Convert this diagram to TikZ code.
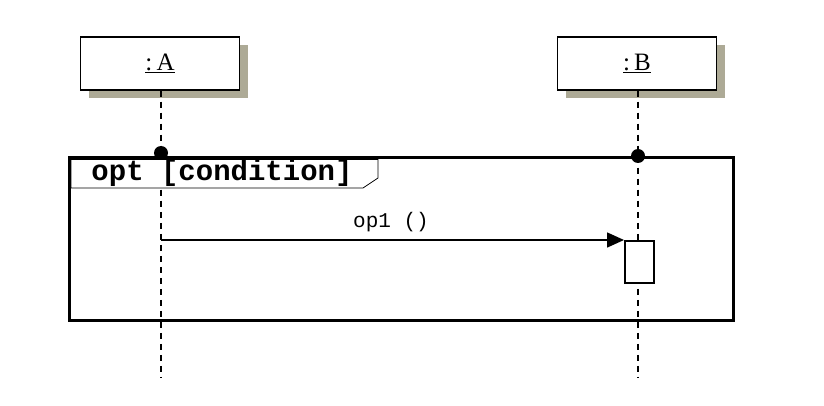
\documentclass[tikz,border=0pt]{standalone}
\usepackage{fontspec}
\setmainfont{Liberation Serif}
\setmonofont{Liberation Mono}
\usetikzlibrary{arrows.meta,shadows}
\definecolor{shadowgray}{HTML}{ADAA96}

\begin{document}
\begin{tikzpicture}[x=1pt, y=-1pt]
	\tikzstyle{Object} = [draw=black, fill=white, line width=1.5pt, minimum width=159pt, minimum height=53pt, inner sep=0pt, drop shadow={shadow xshift=8pt, shadow yshift=-8pt, fill=shadowgray, opacity=1}]
	\tikzstyle{Lifeline} = [line width=1.6pt, dash pattern=on 6pt off 5pt]
	\tikzstyle{Message} = [line width=1.5pt, -{Triangle[length=17pt, width=15pt]}]
	\tikzstyle{Activation} = [draw=black, fill=white, line width=1.5pt, minimum width=29pt, minimum height=42pt, inner sep=0pt, anchor=north west]

	\useasboundingbox (0,0) rectangle (824,406);

	% objects
	\node[name=A, Object] at (160,63.5) {\fontsize{25}{28}\selectfont\underline{:\,A}};
	\node[name=B, Object] at (637,63.5) {\fontsize{25}{28}\selectfont\underline{:\,B}};

	% lifelines
	\coordinate (endA) at (161,378);
	\coordinate (endB) at (638,378);
	\draw[Lifeline] (A.south) ++(1,0) -- (endA);
	\draw[Lifeline] (B.south) ++(1,0) -- (endB);

	% combined fragment
	\draw[line width=3pt] (69,158) rectangle (733,320);
	\draw[fill=white, line width=0.8pt] (71,159.5) -- (378,159.5) -- (378,178) -- (363,188) -- (71,188) -- cycle;
	\node[name=opt, font=\fontsize{29}{30}\bfseries\ttfamily] at (222,173) {opt [condition]};
	\fill[name=dotA] (161,153) circle (7);
	\fill[name=dotB] (638,156) circle (7);

	% message
	\node[name=act, Activation] at (624,240) {};
	\coordinate (msgA) at (161,240);
	\draw[Message] (msgA) -- (act.north west);
	\node[name=op1, font=\fontsize{21}{23}\ttfamily] at (391,222) {op1 ()};
\end{tikzpicture}
\end{document}
